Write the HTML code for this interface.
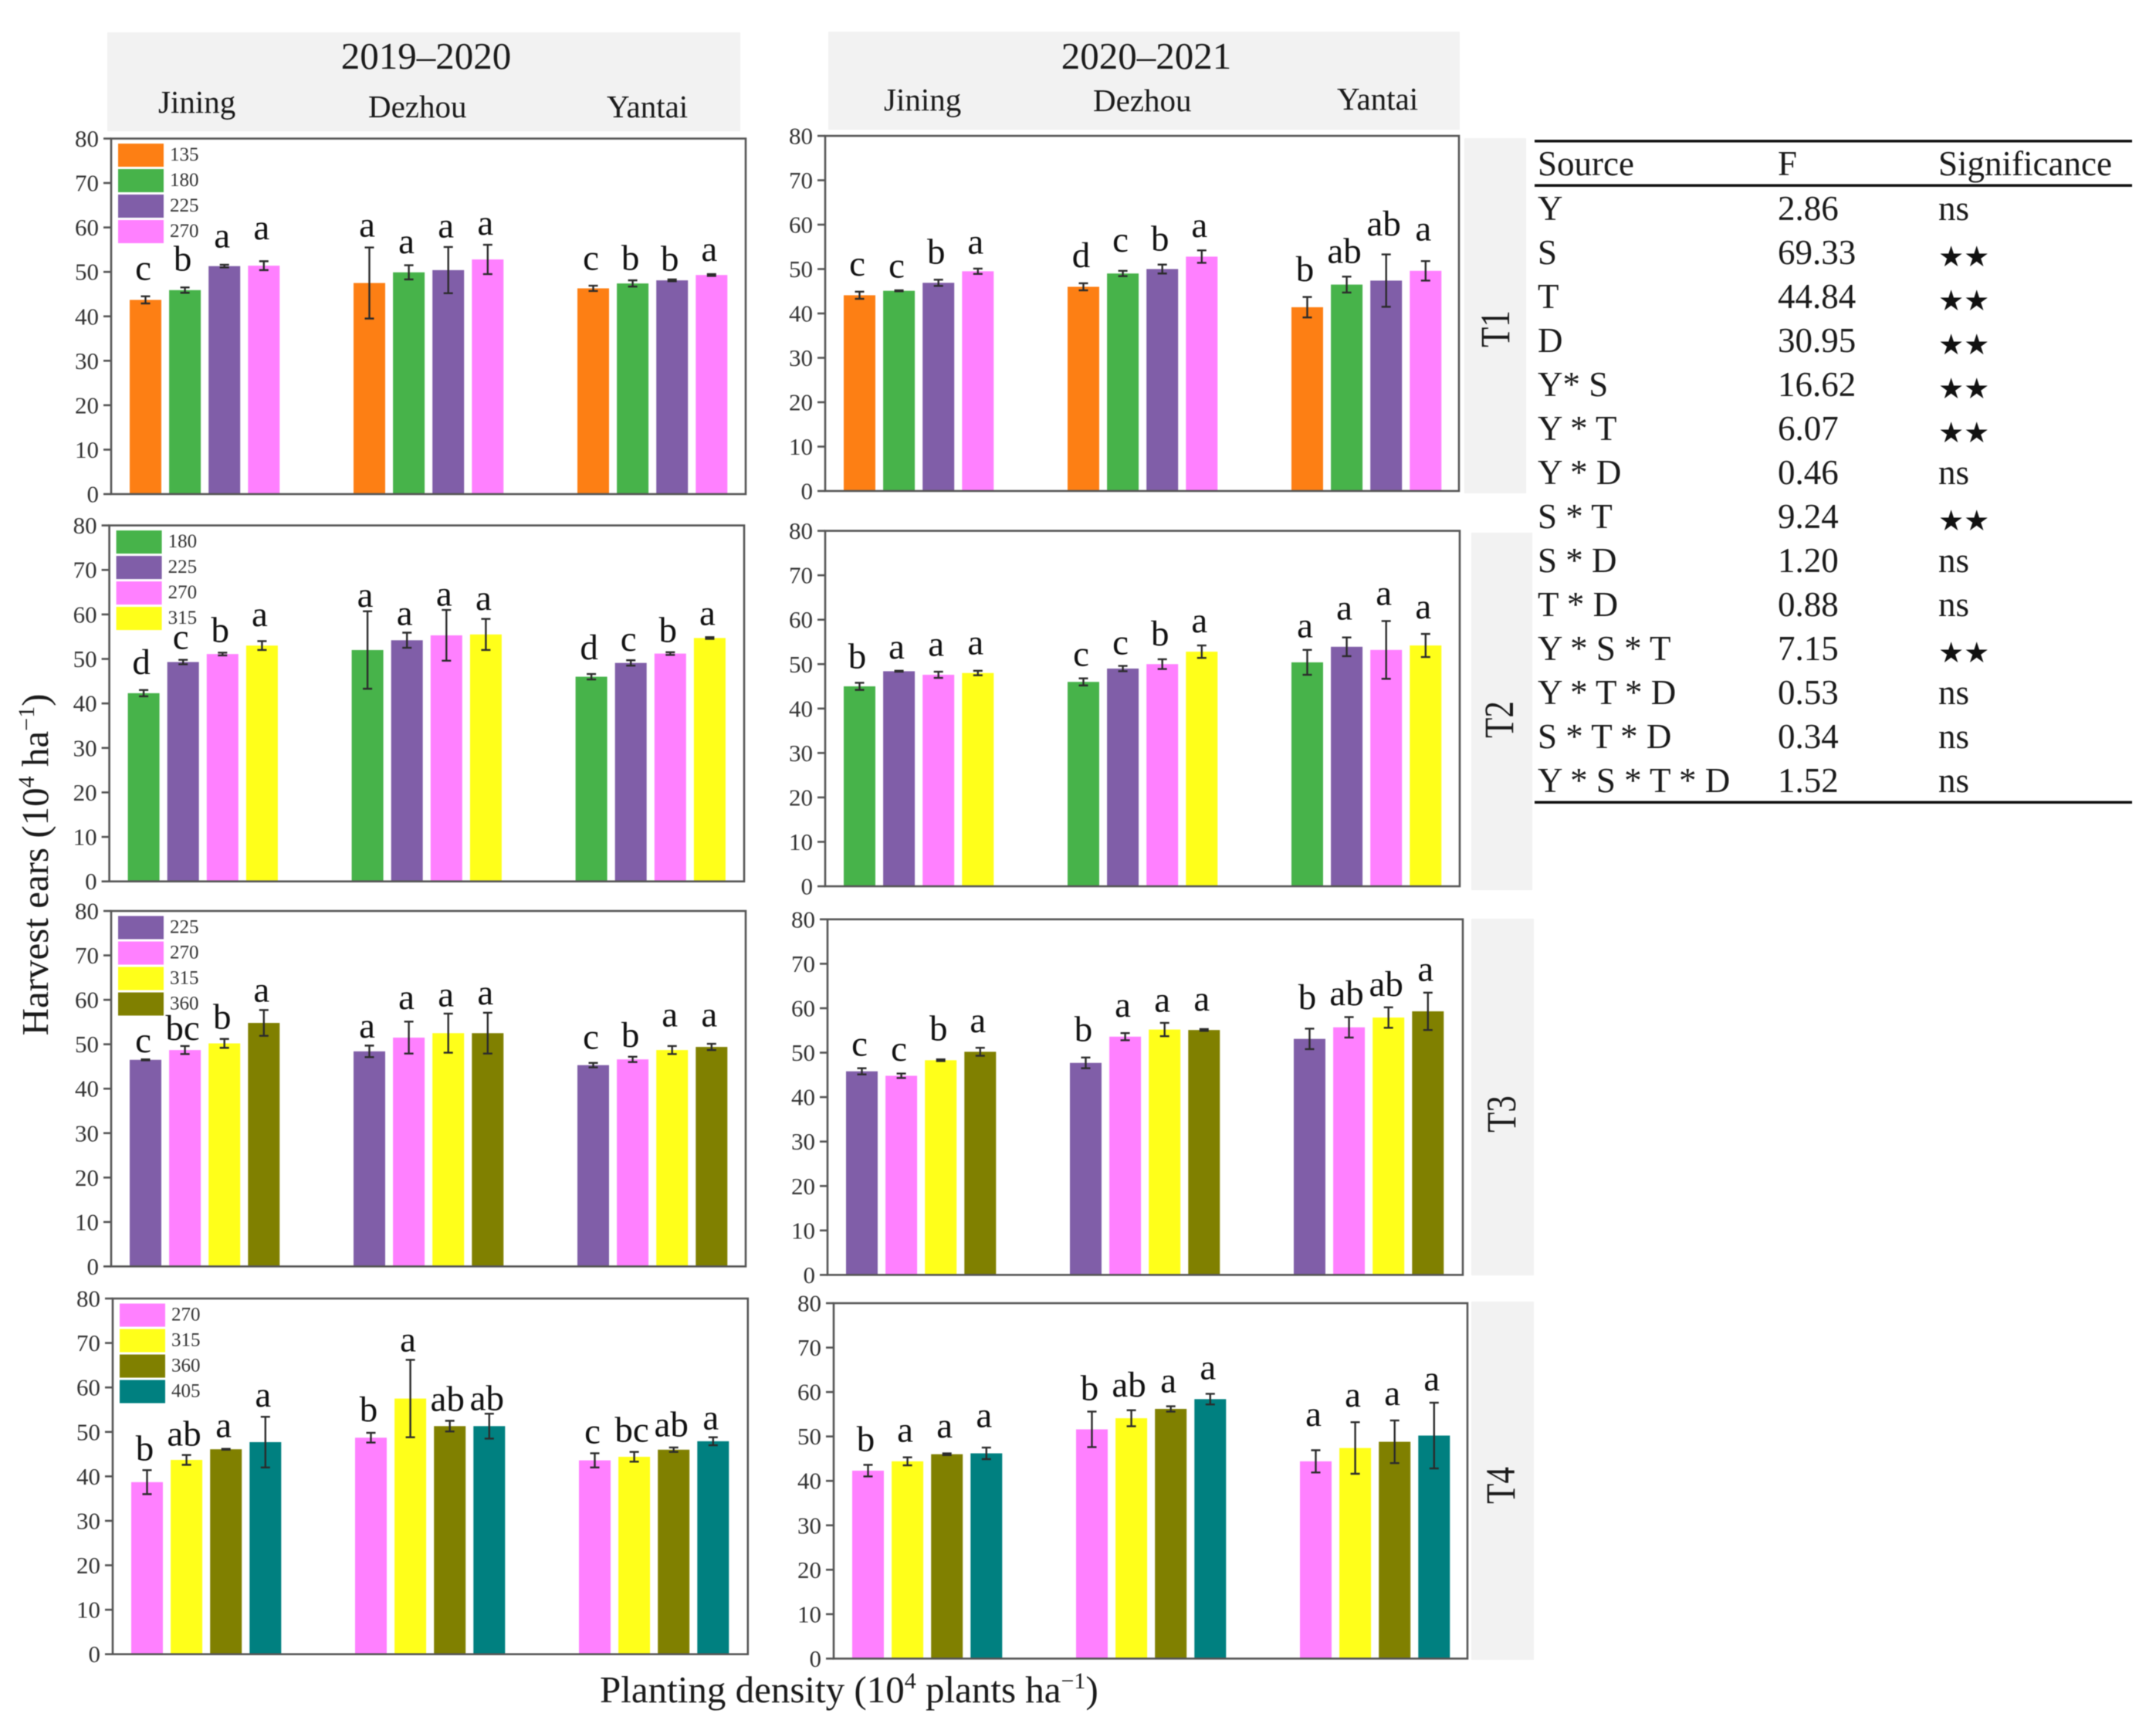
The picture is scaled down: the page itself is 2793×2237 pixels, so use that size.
<!DOCTYPE html>
<html lang="en">
<head>
<meta charset="utf-8">
<title>Harvest ears by planting density</title>
<style>
html,body{margin:0;padding:0;background:#fff;}
svg{display:block;filter:blur(0.6px);}
text{font-family:"Liberation Serif","Times New Roman",serif;fill:#1a1a1a;}
.tick{font-size:31px;fill:#333;}
.site{font-size:41px;}
.season{font-size:49px;}
.letter{font-size:47px;fill:#111;}
.leg{font-size:25px;fill:#333;}
.tb{font-size:45px;}
.star{font-family:"DejaVu Sans",sans-serif;font-size:37px;fill:#111;}
.strip{fill:#f2f2f2;}
</style>
</head>
<body>
<svg id="fig" xmlns="http://www.w3.org/2000/svg" width="2793" height="2237" viewBox="0 0 2793 2237">
  <rect x="0" y="0" width="2793" height="2237" fill="#fff"/>

  <g>
    <rect class="strip" x="139" y="42" width="820" height="128"/>
    <text class="season" x="552" y="89" text-anchor="middle">2019–2020</text>
    <text class="site" x="205" y="146">Jining</text>
    <text class="site" x="477" y="152">Dezhou</text>
    <text class="site" x="786" y="152">Yantai</text>
  </g>
  <g>
    <rect class="strip" x="1073" y="41" width="818" height="127"/>
    <text class="season" x="1485" y="89" text-anchor="middle">2020–2021</text>
    <text class="site" x="1145" y="143">Jining</text>
    <text class="site" x="1416" y="144">Dezhou</text>
    <text class="site" x="1732" y="142">Yantai</text>
  </g>

  <g>
    <rect class="strip" x="1897" y="179" width="80" height="460"/>
    <text transform="translate(1955,426) rotate(-90) scale(1,1.25)" font-size="43" text-anchor="middle">T1</text>
    <rect class="strip" x="1906" y="690" width="79" height="463"/>
    <text transform="translate(1960,932) rotate(-90) scale(1,1.25)" font-size="43" text-anchor="middle">T2</text>
    <rect class="strip" x="1906" y="1190" width="81" height="462"/>
    <text transform="translate(1963,1443) rotate(-90) scale(1,1.25)" font-size="43" text-anchor="middle">T3</text>
    <rect class="strip" x="1906" y="1686" width="81" height="464"/>
    <text transform="translate(1962,1924) rotate(-90) scale(1,1.25)" font-size="43" text-anchor="middle">T4</text>
  </g>

  <text transform="translate(62,1120) rotate(-90)" font-size="49" text-anchor="middle">Harvest ears (10<tspan font-size="30" dy="-18">4</tspan><tspan dy="18"> ha</tspan><tspan font-size="30" dy="-18">−1</tspan><tspan dy="18">)</tspan></text>
  <text x="777" y="2205" font-size="49">Planting density (10<tspan font-size="30" dy="-18">4</tspan><tspan dy="18"> plants ha</tspan><tspan font-size="30" dy="-18">−1</tspan><tspan dy="18">)</tspan></text>

  <g id="panels"></g>

  <g>
    <rect x="1988" y="181" width="774" height="3.5" fill="#111"/>
    <rect x="1988" y="238.5" width="774" height="3.5" fill="#111"/>
    <rect x="1988" y="1037.5" width="774" height="3.5" fill="#111"/>
    <text class="tb" x="1992" y="227">Source</text>
    <text class="tb" x="2303" y="227">F</text>
    <text class="tb" x="2511" y="227">Significance</text>

    <text class="tb" x="1992" y="285">Y</text><text class="tb" x="2303" y="285">2.86</text><text class="tb" x="2511" y="285">ns</text>
    <text class="tb" x="1992" y="342">S</text><text class="tb" x="2303" y="342">69.33</text><text class="star" x="2511" y="345">★★</text>
    <text class="tb" x="1992" y="399">T</text><text class="tb" x="2303" y="399">44.84</text><text class="star" x="2511" y="402">★★</text>
    <text class="tb" x="1992" y="456">D</text><text class="tb" x="2303" y="456">30.95</text><text class="star" x="2511" y="459">★★</text>
    <text class="tb" x="1992" y="513">Y* S</text><text class="tb" x="2303" y="513">16.62</text><text class="star" x="2511" y="516">★★</text>
    <text class="tb" x="1992" y="570">Y * T</text><text class="tb" x="2303" y="570">6.07</text><text class="star" x="2511" y="573">★★</text>
    <text class="tb" x="1992" y="627">Y * D</text><text class="tb" x="2303" y="627">0.46</text><text class="tb" x="2511" y="627">ns</text>
    <text class="tb" x="1992" y="684">S * T</text><text class="tb" x="2303" y="684">9.24</text><text class="star" x="2511" y="687">★★</text>
    <text class="tb" x="1992" y="741">S * D</text><text class="tb" x="2303" y="741">1.20</text><text class="tb" x="2511" y="741">ns</text>
    <text class="tb" x="1992" y="798">T * D</text><text class="tb" x="2303" y="798">0.88</text><text class="tb" x="2511" y="798">ns</text>
    <text class="tb" x="1992" y="855">Y * S * T</text><text class="tb" x="2303" y="855">7.15</text><text class="star" x="2511" y="858">★★</text>
    <text class="tb" x="1992" y="912">Y * T * D</text><text class="tb" x="2303" y="912">0.53</text><text class="tb" x="2511" y="912">ns</text>
    <text class="tb" x="1992" y="969">S * T * D</text><text class="tb" x="2303" y="969">0.34</text><text class="tb" x="2511" y="969">ns</text>
    <text class="tb" x="1992" y="1026">Y * S * T * D</text><text class="tb" x="2303" y="1026">1.52</text><text class="tb" x="2511" y="1026">ns</text>
  </g>
</svg>

<script>
// ---- data ----
const sites = ['Jining', 'Dezhou', 'Yantai'];
const yTickLabels = [0, 10, 20, 30, 40, 50, 60, 70, 80];
const t1Densities = [135, 180, 225, 270];
const t2Densities = [180, 225, 270, 315];
const t3Densities = [225, 270, 315, 360];
const t4Densities = [270, 315, 360, 405];

const s1t1Means = [[43.7, 45.9, 51.3, 51.4], [47.5, 49.9, 50.4, 52.8], [46.3, 47.4, 48.1, 49.3]];
const s1t1Errors = [[0.8, 0.6, 0.3, 1.0], [8.0, 1.6, 5.2, 3.3], [0.6, 0.7, 0.2, 0.2]];
const s1t1Letters = [['c', 'b', 'a', 'a'], ['a', 'a', 'a', 'a'], ['c', 'b', 'b', 'a']];

const s1t2Means = [[42.3, 49.3, 51.1, 53.0], [52.0, 54.2, 55.3, 55.5], [46.0, 49.1, 51.2, 54.7]];
const s1t2Errors = [[0.7, 0.5, 0.3, 1.0], [8.7, 1.7, 5.7, 3.5], [0.6, 0.6, 0.3, 0.2]];
const s1t2Letters = [['d', 'c', 'b', 'a'], ['a', 'a', 'a', 'a'], ['d', 'c', 'b', 'a']];

const s1t3Means = [[46.5, 48.7, 50.2, 54.8], [48.4, 51.5, 52.5, 52.5], [45.3, 46.6, 48.7, 49.4]];
const s1t3Errors = [[0.1, 0.9, 1.0, 2.9], [1.3, 3.6, 4.4, 4.6], [0.5, 0.6, 0.9, 0.7]];
const s1t3Letters = [['c', 'bc', 'b', 'a'], ['a', 'a', 'a', 'a'], ['c', 'b', 'a', 'a']];

const s1t4Means = [[38.7, 43.7, 46.1, 47.7], [48.7, 57.5, 51.3, 51.3], [43.6, 44.4, 46.0, 47.9]];
const s1t4Errors = [[2.7, 1.1, 0.1, 5.7], [1.1, 8.7, 1.2, 2.8], [1.6, 1.1, 0.5, 0.9]];
const s1t4Letters = [['b', 'ab', 'a', 'a'], ['b', 'a', 'ab', 'ab'], ['c', 'bc', 'ab', 'a']];

const s2t1Means = [[44.1, 45.1, 46.9, 49.5], [46.0, 49.0, 50.0, 52.8], [41.4, 46.5, 47.4, 49.6]];
const s2t1Errors = [[0.8, 0.1, 0.7, 0.6], [0.8, 0.6, 1.0, 1.4], [2.3, 1.8, 5.9, 2.2]];
const s2t1Letters = [['c', 'c', 'b', 'a'], ['d', 'c', 'b', 'a'], ['b', 'ab', 'ab', 'a']];

const s2t2Means = [[45.0, 48.4, 47.6, 48.0], [46.0, 49.0, 50.0, 52.8], [50.4, 53.9, 53.2, 54.2]];
const s2t2Errors = [[0.8, 0.1, 0.7, 0.5], [0.8, 0.6, 1.1, 1.4], [2.8, 2.1, 6.5, 2.6]];
const s2t2Letters = [['b', 'a', 'a', 'a'], ['c', 'c', 'b', 'a'], ['a', 'a', 'a', 'a']];

const s2t3Means = [[45.8, 44.8, 48.3, 50.2], [47.7, 53.6, 55.2, 55.1], [53.1, 55.7, 57.9, 59.3]];
const s2t3Errors = [[0.7, 0.5, 0.2, 0.9], [1.2, 0.8, 1.5, 0.2], [2.3, 2.3, 2.3, 4.2]];
const s2t3Letters = [['c', 'c', 'b', 'a'], ['b', 'a', 'a', 'a'], ['b', 'ab', 'ab', 'a']];

const s2t4Means = [[42.3, 44.4, 46.0, 46.2], [51.6, 54.1, 56.2, 58.4], [44.4, 47.4, 48.8, 50.2]];
const s2t4Errors = [[1.3, 0.9, 0.2, 1.3], [4.0, 1.8, 0.6, 1.2], [2.5, 5.8, 4.8, 7.4]];
const s2t4Letters = [['b', 'a', 'a', 'a'], ['b', 'ab', 'a', 'a'], ['a', 'a', 'a', 'a']];

// how far each letter sits above its error cap, in axis units
const s1t1Clearance = [[3.7, 3.8, 3.9, 4.9], [2.4, 2.7, 2.2, 2.3], [3.6, 2.4, 2.0, 3.0]];
const s1t2Clearance = [[3.6, 2.5, 2.4, 3.4], [1.0, 1.7, 1.0, 2.0], [3.3, 2.1, 2.3, 2.7]];
const s1t3Clearance = [[1.6, 1.4, 2.3, 1.9], [1.8, 2.8, 1.6, 1.9], [3.2, 2.2, 4.4, 3.9]];
const s1t4Clearance = [[2.2, 2.1, 2.6, 2.3], [2.6, 1.9, 2.2, 0.8], [2.2, 2.3, 2.5, 1.8]];
const s2t1Clearance = [[3.6, 2.9, 3.6, 3.4], [3.6, 4.3, 3.2, 3.0], [3.6, 3.1, 4.3, 4.6]];
const s2t2Clearance = [[3.3, 2.8, 3.6, 3.7], [2.8, 2.6, 3.1, 3.0], [2.8, 4.0, 3.6, 3.5]];
const s2t3Clearance = [[2.8, 2.9, 4.3, 3.5], [3.7, 3.7, 2.5, 4.2], [4.4, 2.7, 2.6, 2.7]];
const s2t4Clearance = [[3.1, 3.5, 3.6, 4.6], [2.6, 3.1, 3.1, 3.3], [5.5, 3.5, 3.5, 2.8]];

// ---- styling and layout (not data) ----
const densityColor = {135: '#fd7f14', 180: '#47b34a', 225: '#805ea8', 270: '#ff80ff', 315: '#ffff1a', 360: '#808000', 405: '#008080'};
const Y_MAX = 80;
const BAR_INSET = 24, GROUP_STEP = 290, BAR_STEP = 51.1, BAR_WIDTH = 41;
const LETTER_SHIFT = -3;
const AXIS_COLOR = '#555';

const panels = [
  {id: 's1-t1', left: 144, right: 966, top: 179.5, bottom: 640, means: s1t1Means, errors: s1t1Errors, letters: s1t1Letters, clearance: s1t1Clearance, densities: t1Densities, legend: true},
  {id: 's1-t2', left: 141.6, right: 964, top: 680.6, bottom: 1141.7, means: s1t2Means, errors: s1t2Errors, letters: s1t2Letters, clearance: s1t2Clearance, densities: t2Densities, legend: true},
  {id: 's1-t3', left: 144, right: 966, top: 1180, bottom: 1640.4, means: s1t3Means, errors: s1t3Errors, letters: s1t3Letters, clearance: s1t3Clearance, densities: t3Densities, legend: true},
  {id: 's1-t4', left: 146, right: 968.8, top: 1682, bottom: 2142.7, means: s1t4Means, errors: s1t4Errors, letters: s1t4Letters, clearance: s1t4Clearance, densities: t4Densities, legend: true},
  {id: 's2-t1', left: 1069, right: 1890, top: 176, bottom: 636, means: s2t1Means, errors: s2t1Errors, letters: s2t1Letters, clearance: s2t1Clearance, densities: t1Densities, legend: false},
  {id: 's2-t2', left: 1069, right: 1891, top: 687.6, bottom: 1148, means: s2t2Means, errors: s2t2Errors, letters: s2t2Letters, clearance: s2t2Clearance, densities: t2Densities, legend: false},
  {id: 's2-t3', left: 1072, right: 1895, top: 1190.8, bottom: 1651.4, means: s2t3Means, errors: s2t3Errors, letters: s2t3Letters, clearance: s2t3Clearance, densities: t3Densities, legend: false},
  {id: 's2-t4', left: 1080, right: 1901, top: 1688, bottom: 2148.4, means: s2t4Means, errors: s2t4Errors, letters: s2t4Letters, clearance: s2t4Clearance, densities: t4Densities, legend: false}
];

const NS = 'http://www.w3.org/2000/svg';
function make(tag, attrs, parent) {
  const el = document.createElementNS(NS, tag);
  Object.keys(attrs).forEach(function (k) { el.setAttribute(k, attrs[k]); });
  parent.appendChild(el);
  return el;
}

const root = document.getElementById('panels');

panels.forEach(function (p) {
  const yScale = function (v) { return p.bottom - (v / Y_MAX) * (p.bottom - p.top); };
  const xScale = function (g, i) { return p.left + BAR_INSET + g * GROUP_STEP + i * BAR_STEP; };

  const group = make('g', {}, root);
  
  

  p.means.forEach(function (siteMeans, g) {
    siteMeans.forEach(function (mean, i) {
      const x = xScale(g, i);
      const cx = x + BAR_WIDTH / 2;
      const err = p.errors[g][i];

      const bar = make('rect', {x: x, y: yScale(mean), width: BAR_WIDTH, height: p.bottom - yScale(mean), fill: densityColor[p.densities[i]]}, group);
      
      

      const errorBar = make('path', {
        d: 'M' + (cx - 6) + ' ' + yScale(mean + err) + 'H' + (cx + 6) +
           'M' + cx + ' ' + yScale(mean + err) + 'V' + yScale(mean - err) +
           'M' + (cx - 6) + ' ' + yScale(mean - err) + 'H' + (cx + 6),
        fill: 'none', stroke: '#2b2b2b', 'stroke-width': 2.4
      }, group);
      
      

      const letter = make('text', {x: cx + LETTER_SHIFT, y: yScale(mean + err + p.clearance[g][i]), 'text-anchor': 'middle', class: 'letter'}, group);
      letter.textContent = p.letters[g][i];
      
      
    });
  });

  const frame = make('rect', {x: p.left, y: p.top, width: p.right - p.left, height: p.bottom - p.top, fill: 'none', stroke: AXIS_COLOR, 'stroke-width': 2.6}, group);
  
  

  yTickLabels.forEach(function (t) {
    const tick = make('line', {x1: p.left - 10, x2: p.left, y1: yScale(t), y2: yScale(t), stroke: AXIS_COLOR, 'stroke-width': 2.6}, group);
    
    

    const label = make('text', {x: p.left - 16, y: yScale(t) + 10.5, 'text-anchor': 'end', class: 'tick'}, group);
    label.textContent = t;
    
    
  });

  if (p.legend) {
    p.densities.forEach(function (d, i) {
      const ly = p.top + 6.5 + i * 33;
      const swatch = make('rect', {x: p.left + 9, y: ly, width: 59, height: 30, fill: densityColor[d]}, group);
      
      

      const entry = make('text', {x: p.left + 76, y: ly + 22, class: 'leg'}, group);
      entry.textContent = d;
      
      
    });
  }
});
</script>
</body>
</html>
